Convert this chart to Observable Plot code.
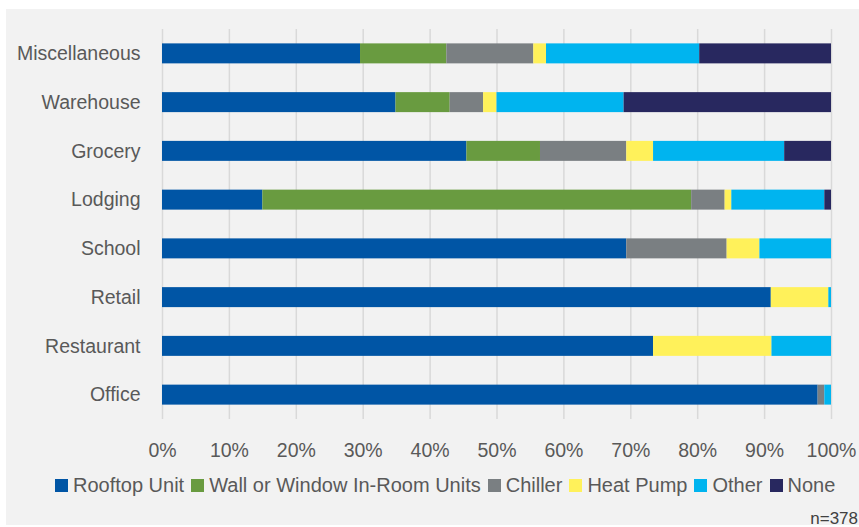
<!DOCTYPE html>
<html>
<head>
<meta charset="utf-8">
<script src="https://cdn.jsdelivr.net/npm/d3@7"></script>
<script src="https://cdn.jsdelivr.net/npm/@observablehq/plot@0.6"></script>
<style>
  html, body { margin: 0; padding: 0; background: #ffffff; }
  #page { position: relative; width: 859px; height: 527px; overflow: hidden; font-family: "Liberation Sans", Arial, sans-serif; color: #595959; }
  #bg { position: absolute; left: 6px; top: 9px; width: 853px; height: 516px; background: #f2f2f2; }
  #chart { position: absolute; left: 0; top: 0; }
  #legend { position: absolute; left: 55px; top: 474px; }
  #legend .lg-swatch { margin-right: 7px !important; margin-left: 0 !important; line-height: 23px; }
  #legend .lg-swatch > svg { margin-right: 5px !important; }
  #legend .lg-swatches { margin: 0 !important; min-height: 0 !important; }
  #note { position: absolute; right: 1px; top: 510px; font-size: 17px; line-height: 17px; color: #404040; }
</style>
</head>
<body>
<div id="page">
  <div id="bg"></div>
  <div id="chart"></div>
  <div id="legend"></div>
  <div id="note">n=378</div>
</div>
<script>
// Categories (top to bottom)
const categories = ["Miscellaneous", "Warehouse", "Grocery", "Lodging", "School", "Retail", "Restaurant", "Office"];
// Series (left to right in each bar)
const series = ["Rooftop Unit", "Wall or Window In-Room Units", "Chiller", "Heat Pump", "Other", "None"];
const seriesColors = ["#0055a5", "#699b40", "#7a7f82", "#fff15a", "#00b4ef", "#28285f"];
// Percent shares per category
const rooftop    = [29.6, 34.9, 45.5, 15.0, 69.4, 91.0, 73.4, 98.0];
const wallWindow = [12.9,  8.1, 11.0, 64.1,  0.0,  0.0,  0.0,  0.0];
const chiller    = [13.0,  5.0, 12.9,  5.0, 15.0,  0.0,  0.0,  1.0];
const heatPump   = [ 1.9,  2.0,  4.0,  1.0,  4.9,  8.6, 17.7,  0.0];
const other      = [22.9, 19.0, 19.6, 13.9, 10.7,  0.4,  8.9,  1.0];
const none       = [19.7, 31.0,  7.0,  1.0,  0.0,  0.0,  0.0,  0.0];
const xTicks = [0, 10, 20, 30, 40, 50, 60, 70, 80, 90, 100];

const seriesValues = [rooftop, wallWindow, chiller, heatPump, other, none];
const data = [];
series.forEach((s, si) => {
  categories.forEach((c, ci) => {
    data.push({ category: c, type: s, share: seriesValues[si][ci] / 100 });
  });
});

const FONT = "Liberation Sans, Arial, sans-serif";
const tickVals = xTicks.map(d => d / 100);

const chart = Plot.plot({
  width: 859,
  height: 470,
  marginLeft: 162,
  marginRight: 28,
  marginTop: 29,
  marginBottom: 51,
  style: { background: "transparent", fontFamily: FONT, fontSize: "19.5px", color: "#595959", overflow: "visible" },
  x: { domain: [0, 1], ticks: tickVals, tickFormat: d3.format(".0%"), tickSize: 0, tickPadding: 24, label: null },
  y: { domain: categories, paddingInner: 0.59, paddingOuter: 0.295, round: false, tickSize: 0, tickPadding: 22, label: null },
  color: { domain: series, range: seriesColors },
  marks: [
    Plot.gridX(tickVals, { stroke: "#d9d9d9", strokeOpacity: 1, strokeWidth: 1.5 }),
    Plot.barX(data, Plot.stackX({
      x: "share",
      y: "category",
      fill: "type",
      z: "type",
      order: series
    })),
    Plot.axisX({ ticks: tickVals, tickFormat: d3.format(".0%"), tickSize: 0, tickPadding: 24, fontSize: 19.5 }),
    Plot.axisY({ tickSize: 0, tickPadding: 22, fontSize: 19.5 })
  ]
});
document.getElementById("chart").appendChild(chart);

const legend = Plot.legend({
  color: { domain: series, range: seriesColors },
  legend: "swatches",
  swatchSize: 13,
  className: "lg",
  style: { fontFamily: FONT, fontSize: "20px", color: "#595959" }
});
document.getElementById("legend").appendChild(legend);
</script>
</body>
</html>
